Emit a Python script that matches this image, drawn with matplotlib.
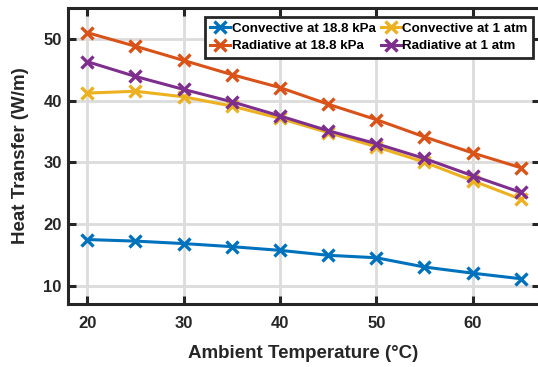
import matplotlib
matplotlib.use("Agg")
import matplotlib.pyplot as plt

plt.rcParams['font.family'] = ['Liberation Sans', 'DejaVu Sans']
plt.rcParams['font.weight'] = 'bold'

temperature = [20, 25, 30, 35, 40, 45, 50, 55, 60, 65]
conv_low = [17.45, 17.2, 16.8, 16.3, 15.7, 14.9, 14.5, 13.0, 12.0, 11.1]
conv_atm = [41.2, 41.5, 40.6, 39.1, 37.1, 34.8, 32.5, 30.0, 27.0, 24.0]
rad_low = [51.0, 48.8, 46.5, 44.2, 42.1, 39.4, 36.9, 34.1, 31.5, 29.1]
rad_atm = [46.3, 43.9, 41.8, 39.8, 37.5, 35.1, 33.0, 30.6, 27.8, 25.1]

labels = ["Convective at 18.8 kPa", "Convective at 1 atm",
          "Radiative at 18.8 kPa", "Radiative at 1 atm"]
colors = ["#0072BD", "#EDB120", "#D95319", "#7E2F8E"]
series = [conv_low, conv_atm, rad_low, rad_atm]
ink = "#262626"

fig = plt.figure(figsize=(5.38, 3.67), dpi=100)
ax = fig.add_axes([68/538, 1 - 304/367, (540 - 68)/538, (304 - 8)/367])

handles = []
for y, c, lab in zip(series, colors, labels):
    h, = ax.plot(temperature, y, color=c, lw=2.2, marker='x', ms=9, mew=2.4,
                 label=lab, zorder=3)
    handles.append(h)

ax.set_xlim(18, 67)
ax.set_ylim(7, 55)
ax.set_xticks([20, 30, 40, 50, 60])
ax.set_yticks([10, 20, 30, 40, 50])
ax.grid(True, color="#dcdcdc", lw=2, zorder=0)
ax.set_axisbelow(True)
for s in ax.spines.values():
    s.set_linewidth(2.2)
    s.set_color(ink)
ax.tick_params(direction='in', length=6, width=2.2, color=ink,
               labelsize=12, labelcolor=ink, top=True, right=True)
ax.tick_params(axis='x', pad=9)
ax.tick_params(axis='y', pad=4.5)
for lab in ax.get_xticklabels() + ax.get_yticklabels():
    lab.set_fontweight('bold')

ax.set_xlabel("Ambient Temperature (°C)", fontsize=13.5, fontweight='bold',
              color=ink, va='center')
ax.xaxis.set_label_coords(0.498, -49/296)
ax.set_ylabel("Heat Transfer (W/m)", fontsize=13.5, fontweight='bold',
              color=ink, va='center')
ax.yaxis.set_label_coords(-47/472, 0.5)

leg = ax.legend(handles=[handles[0], handles[2], handles[1], handles[3]],
                labels=[labels[0], labels[2], labels[1], labels[3]],
                ncol=2, loc='upper right', bbox_to_anchor=(0.985, 0.97),
                fontsize=9.6, frameon=True, fancybox=False, framealpha=1,
                edgecolor=ink, handlelength=1.5, handletextpad=0.12,
                columnspacing=0.35, borderpad=0.4, labelspacing=0.4,
                borderaxespad=0)
leg.get_frame().set_linewidth(2)
for t in leg.get_texts():
    t.set_fontweight('bold')
    t.set_color("black")

fig.savefig("out.png", dpi=100)
